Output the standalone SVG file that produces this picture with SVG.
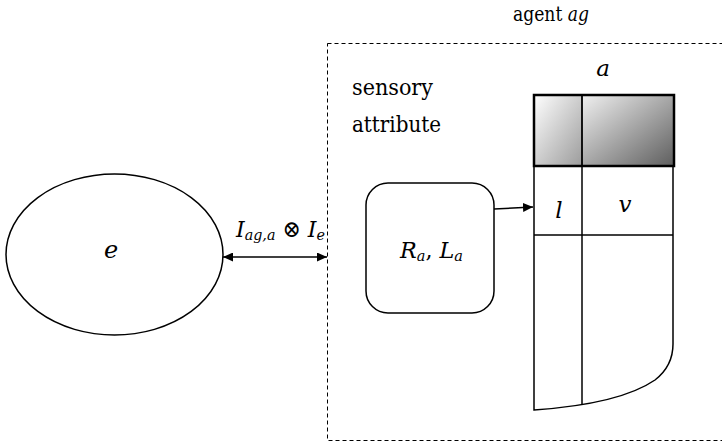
<svg xmlns="http://www.w3.org/2000/svg" width="722" height="446" viewBox="0 0 722 446">
<style>
.t{font-family:"DejaVu Serif","Liberation Serif","Times New Roman",serif;fill:#000}
.i{font-style:italic}
.ln{fill:none;stroke:#000;stroke-width:1.5}
</style>
<defs>
<linearGradient id="g1" x1="0" y1="0" x2="1" y2="1">
<stop offset="0" stop-color="#ffffff"/>
<stop offset="1" stop-color="#9c9c9c"/>
</linearGradient>
<linearGradient id="g2" x1="0" y1="0" x2="1" y2="1">
<stop offset="0" stop-color="#f0f0f0"/>
<stop offset="1" stop-color="#5e5e5e"/>
</linearGradient>
<marker id="ah" viewBox="0 0 10 10" refX="10" refY="5" markerWidth="10" markerHeight="9" markerUnits="userSpaceOnUse" orient="auto-start-reverse" preserveAspectRatio="none">
<path d="M0,0 L10,5 L0,10 z" fill="#000"/>
</marker>
</defs>
<rect width="722" height="446" fill="#fff"/>
<g id="agent">
<rect x="327.5" y="43.5" width="420" height="397" fill="none" stroke="#000" stroke-width="1" stroke-dasharray="4,3"/>
<text x="513" y="21" font-size="20" class="t" textLength="76" lengthAdjust="spacingAndGlyphs">agent <tspan class="i">ag</tspan></text>
<text x="352" y="95" font-size="22" class="t" textLength="81" lengthAdjust="spacingAndGlyphs">sensory</text>
<text x="352" y="132" font-size="22" class="t" textLength="89" lengthAdjust="spacingAndGlyphs">attribute</text>
</g>
<g id="env">
<ellipse cx="114.5" cy="254.5" rx="108.5" ry="80.5" class="ln"/>
<text x="111" y="258" font-size="24" class="t i" text-anchor="middle">e</text>
</g>
<g id="rl">
<rect x="366" y="183" width="128" height="130" rx="22" ry="22" class="ln"/>
<text x="400" y="258" font-size="23" class="t" textLength="63" lengthAdjust="spacingAndGlyphs"><tspan class="i">R</tspan><tspan class="i" font-size="15" dy="3">a</tspan><tspan dy="-3">, </tspan><tspan class="i">L</tspan><tspan class="i" font-size="15" dy="3">a</tspan></text>
</g>
<g id="table">
<rect x="534" y="95" width="48" height="71" fill="url(#g1)"/>
<rect x="582" y="95" width="92" height="71" fill="url(#g2)"/>
<rect x="534" y="95" width="140" height="71" fill="none" stroke="#000" stroke-width="2.5"/>
<line x1="582" y1="95" x2="582" y2="166" stroke="#000" stroke-width="1.8"/>
<path class="ln" d="M534,166 L534,410 Q620,404 655,380 Q673,366 673,344 L673,166"/>
<line x1="534" y1="235" x2="673" y2="235" stroke="#000" stroke-width="1.5"/>
<line x1="582" y1="166" x2="582" y2="404" stroke="#000" stroke-width="1.5"/>
<text x="603" y="76" font-size="23" class="t i" text-anchor="middle">a</text>
<text x="559" y="218" font-size="23" class="t i" text-anchor="middle">l</text>
<text x="625" y="212" font-size="23" class="t i" text-anchor="middle">v</text>
</g>
<g id="connectors">
<line x1="223" y1="257" x2="327" y2="257" class="ln" marker-start="url(#ah)" marker-end="url(#ah)"/>
<line x1="494" y1="209" x2="533" y2="207" class="ln" marker-end="url(#ah)"/>
<text x="236" y="237" font-size="23" class="t i" textLength="89" lengthAdjust="spacingAndGlyphs">I<tspan font-size="15" dy="3">ag,a</tspan><tspan dy="-3" font-style="normal"> ⊗ </tspan>I<tspan font-size="15" dy="3">e</tspan></text>
</g>
</svg>
